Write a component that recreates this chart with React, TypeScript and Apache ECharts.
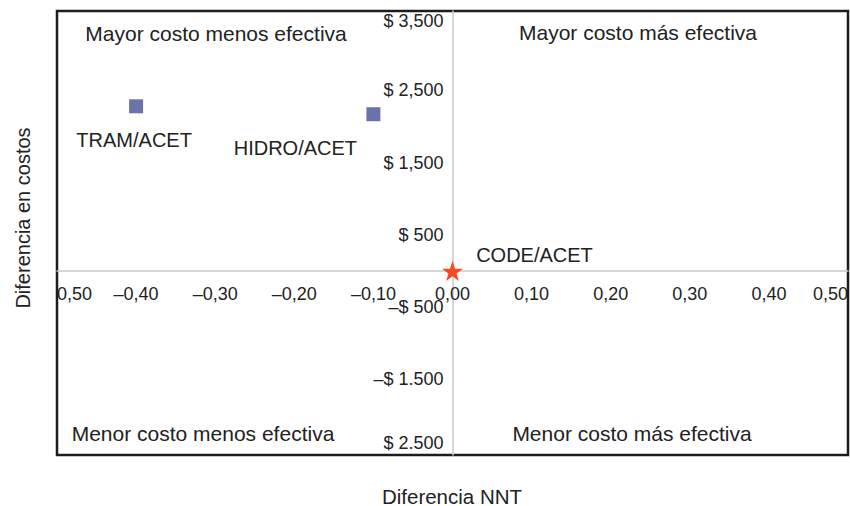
import React, { useEffect, useRef } from "react";
import * as echarts from "echarts";

// ---- Data ----
const pointNames = ["TRAM/ACET", "HIDRO/ACET", "CODE/ACET"];
const nntDiff = [-0.4, -0.1, 0.0];
const costDiff = [2280, 2170, 0];

const xTickLabels = ["0,50", "–0,40", "–0,30", "–0,20", "–0,10", "0,00", "0,10", "0,20", "0,30", "0,40", "0,50"];
const yTickValues = [-2500, -1500, -500, 500, 1500, 2500, 3500];
const yTickLabels = ["$ 2.500", "–$ 1.500", "–$ 500", "$ 500", "$ 1,500", "$ 2,500", "$ 3,500"];

const quadrantLabels = [
  "Mayor costo menos efectiva",
  "Mayor costo más efectiva",
  "Menor costo menos efectiva",
  "Menor costo más efectiva",
];
const xAxisTitle = "Diferencia NNT";
const yAxisTitle = "Diferencia en costos";

const X_MIN = -0.5;
const X_MAX = 0.5;
const Y_MIN = -2550;
const Y_MAX = 3600;

const FONT = "'Liberation Sans', Arial, Helvetica, sans-serif";
const TEXT = "#222222";
const STAR =
  "path://M50,0 L61.8,35.1 L98.9,35.1 L68.9,56.8 L79.4,90.5 L50,69.1 L20.6,90.5 L31.1,56.8 L1.1,35.1 L38.2,35.1 Z";

export default function App() {
  const ref = useRef<HTMLDivElement>(null);

  useEffect(() => {
    if (!ref.current) return;
    const chart = echarts.init(ref.current, undefined, { renderer: "svg" });

    const W = 850;
    const H = 506;
    const gLeft = 57;
    const gRight = 2;
    const gTop = 11;
    const gBottom = 51;
    const gW = W - gLeft - gRight;
    const gH = H - gTop - gBottom;
    // shift axes from grid edges onto the zero lines
    const xAxisOffset = -(gH * (0 - Y_MIN)) / (Y_MAX - Y_MIN);
    const yAxisOffset = -(gW * (0 - X_MIN)) / (X_MAX - X_MIN);

    const labelOffsets = [
      [-2, 34],
      [-78, 34],
      [82, -16],
    ];

    const data = pointNames.map((name, i) => {
      const isStar = i === 2;
      return {
        name,
        value: [nntDiff[i], costDiff[i]],
        symbol: isStar ? STAR : "rect",
        symbolSize: isStar ? [21, 20] : 14,
        itemStyle: { color: isStar ? "#f24a24" : "#6a74aa", opacity: 1 },
        label: {
          show: true,
          position: "inside",
          offset: labelOffsets[i],
          formatter: name,
          fontSize: 20,
          fontFamily: FONT,
          color: TEXT,
        },
      };
    });

    const qPos = [
      [216, 33],
      [638, 32],
      [203, 433],
      [632, 433],
    ];

    const option: any = {
      animation: false,
      backgroundColor: "#ffffff",
      grid: {
        left: gLeft,
        right: gRight,
        top: gTop,
        bottom: gBottom,
        containLabel: false,
        outerBoundsMode: "none",
        show: true,
        borderColor: "#1c1c1c",
        borderWidth: 2.5,
        backgroundColor: "transparent",
      },
      xAxis: {
        type: "value",
        min: X_MIN,
        max: X_MAX,
        interval: 0.1,
        position: "bottom",
        offset: xAxisOffset,
        splitLine: { show: false },
        axisTick: { show: false },
        axisLine: { onZero: false, lineStyle: { color: "#c9c9c9", width: 1.5 } },
        axisLabel: {
          margin: 14,
          fontSize: 18,
          fontFamily: FONT,
          color: TEXT,
          alignMinLabel: "left",
          alignMaxLabel: "right",
          formatter: (v: number) => xTickLabels[Math.round(v * 10) + 5] ?? "",
        },
      },
      yAxis: {
        type: "value",
        min: Y_MIN,
        max: Y_MAX,
        position: "left",
        offset: yAxisOffset,
        splitLine: { show: false },
        axisTick: { show: false },
        axisLine: { onZero: false, lineStyle: { color: "#c9c9c9", width: 1.5 } },
        axisLabel: {
          margin: 9,
          fontSize: 18,
          fontFamily: FONT,
          color: TEXT,
          customValues: yTickValues,
          formatter: (v: number) => {
            const idx = yTickValues.indexOf(Math.round(v));
            if (idx < 0) return "";
            if (idx === 0) return "{lo|" + yTickLabels[idx] + "}";
            if (idx === yTickValues.length - 1) return "{hi|" + yTickLabels[idx] + "}";
            return yTickLabels[idx];
          },
          rich: {
            lo: {
              fontSize: 18,
              fontFamily: FONT,
              color: TEXT,
              padding: [0, 0, 17, 0],
            },
            hi: {
              fontSize: 18,
              fontFamily: FONT,
              color: TEXT,
              padding: [5, 0, 0, 0],
            },
          },
        },
      },
      graphic: [
        ...quadrantLabels.map((t, i) => ({
          type: "text",
          x: qPos[i][0],
          y: qPos[i][1],
          style: {
            text: t,
            fontSize: 21,
            fontFamily: FONT,
            fill: TEXT,
            align: "center",
            verticalAlign: "middle",
          },
        })),
        {
          type: "text",
          x: 452,
          y: 496,
          style: {
            text: xAxisTitle,
            fontSize: 20.5,
            fontFamily: FONT,
            fill: TEXT,
            align: "center",
            verticalAlign: "middle",
          },
        },
        {
          type: "text",
          x: 23,
          y: 218,
          rotation: Math.PI / 2,
          style: {
            text: yAxisTitle,
            fontSize: 20,
            fontFamily: FONT,
            fill: TEXT,
            align: "center",
            verticalAlign: "middle",
          },
        },
      ],
      series: [
        {
          type: "scatter",
          itemStyle: { opacity: 1 },
          data,
        },
      ],
    };

    chart.setOption(option);
    return () => chart.dispose();
  }, []);

  return (
    <div
      ref={ref}
      style={{ position: "absolute", left: 0, top: 0, width: 850, height: 506 }}
    />
  );
}
